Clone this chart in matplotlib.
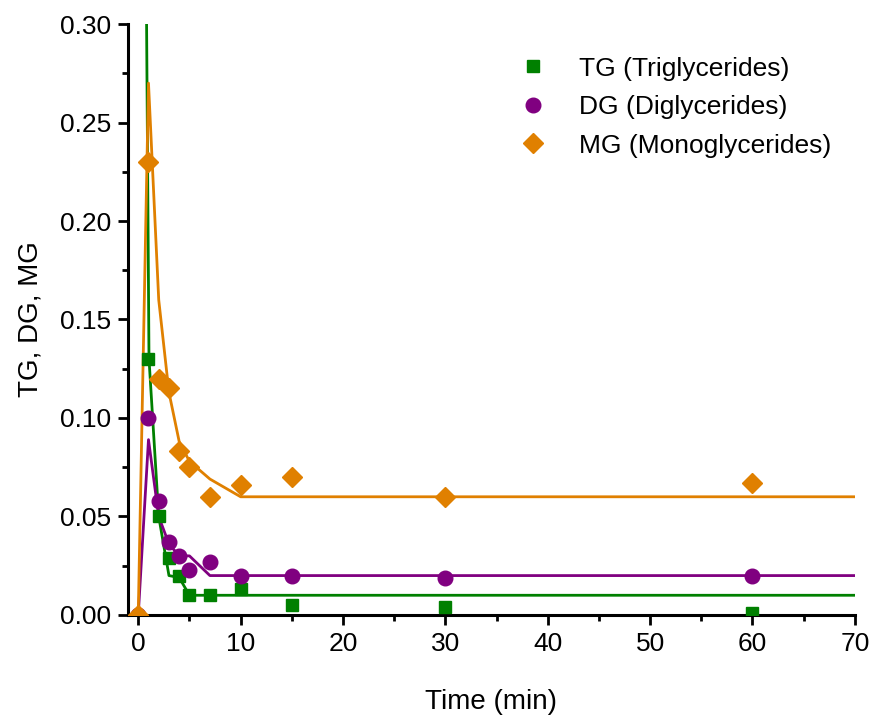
import matplotlib
matplotlib.use("Agg")
import matplotlib.pyplot as plt
from matplotlib.ticker import MultipleLocator, FormatStrFormatter

plt.rcParams['font.family'] = ['Liberation Sans', 'DejaVu Sans']

# Experimental data
t_tg = [1, 2, 3, 4, 5, 7, 10, 15, 30, 60]
tg = [0.130, 0.050, 0.029, 0.020, 0.010, 0.010, 0.013, 0.005, 0.004, 0.001]

t_dg = [0, 1, 2, 3, 4, 5, 7, 10, 15, 30, 60]
dg = [0.0, 0.100, 0.058, 0.037, 0.030, 0.023, 0.027, 0.020, 0.020, 0.019, 0.020]

t_mg = [0, 1, 2, 3, 4, 5, 7, 10, 15, 30, 60]
mg = [0.0, 0.230, 0.120, 0.115, 0.083, 0.075, 0.060, 0.066, 0.070, 0.060, 0.067]

# Model curves
tf_tg = [0.8, 1.05, 2, 3, 4, 5, 7, 10, 70]
fit_tg = [0.31, 0.13, 0.05, 0.02, 0.019, 0.010, 0.010, 0.010, 0.010]

tf_dg = [0, 1, 2, 3, 4, 5, 7, 10, 70]
fit_dg = [0.0, 0.089, 0.050, 0.036, 0.030, 0.030, 0.020, 0.020, 0.020]

tf_mg = [0, 1, 2, 3, 4, 5, 7, 10, 70]
fit_mg = [0.0, 0.270, 0.160, 0.113, 0.088, 0.078, 0.069, 0.060, 0.060]

c_tg = '#008000'
c_dg = '#800080'
c_mg = '#E08000'

fig = plt.figure(figsize=(8.75, 7.17), dpi=100)
ax = fig.add_axes([0.1463, 0.1423, 0.977 - 0.1463, 0.9665 - 0.1423])

ax.plot(tf_tg, fit_tg, color=c_tg, lw=2.0, zorder=2)
ax.plot(tf_dg, fit_dg, color=c_dg, lw=2.0, zorder=2)
ax.plot(tf_mg, fit_mg, color=c_mg, lw=2.0, zorder=2)

ax.plot(t_tg, tg, 's', color=c_tg, ms=9, label='TG (Triglycerides)', zorder=3)
ax.plot(t_dg, dg, 'o', color=c_dg, ms=10.5, label='DG (Diglycerides)', zorder=3)
ax.plot(t_mg, mg, 'D', color=c_mg, ms=10.5, label='MG (Monoglycerides)', zorder=4)

ax.set_xlim(-1, 70)
ax.set_ylim(0, 0.30)
ax.xaxis.set_major_locator(MultipleLocator(10))
ax.xaxis.set_minor_locator(MultipleLocator(5))
ax.yaxis.set_major_locator(MultipleLocator(0.05))
ax.yaxis.set_minor_locator(MultipleLocator(0.025))
ax.yaxis.set_major_formatter(FormatStrFormatter('%.2f'))

for s in ['top', 'right']:
    ax.spines[s].set_visible(False)
for s in ['left', 'bottom']:
    ax.spines[s].set_linewidth(2.2)

ax.tick_params(which='major', direction='out', length=7, width=2.0, labelsize=19, pad=5)
ax.tick_params(which='minor', direction='out', length=4.5, width=2.0)

ax.set_xlabel('Time (min)', fontsize=20, labelpad=24)
ax.set_ylabel('TG, DG, MG', fontsize=20, labelpad=12)

ax.legend(loc='upper right', bbox_to_anchor=(1.0, 0.985), frameon=False, fontsize=19,
          handletextpad=1.0, labelspacing=0.55, markerscale=1.0, handlelength=1.5)

fig.savefig('out.png', dpi=100)
